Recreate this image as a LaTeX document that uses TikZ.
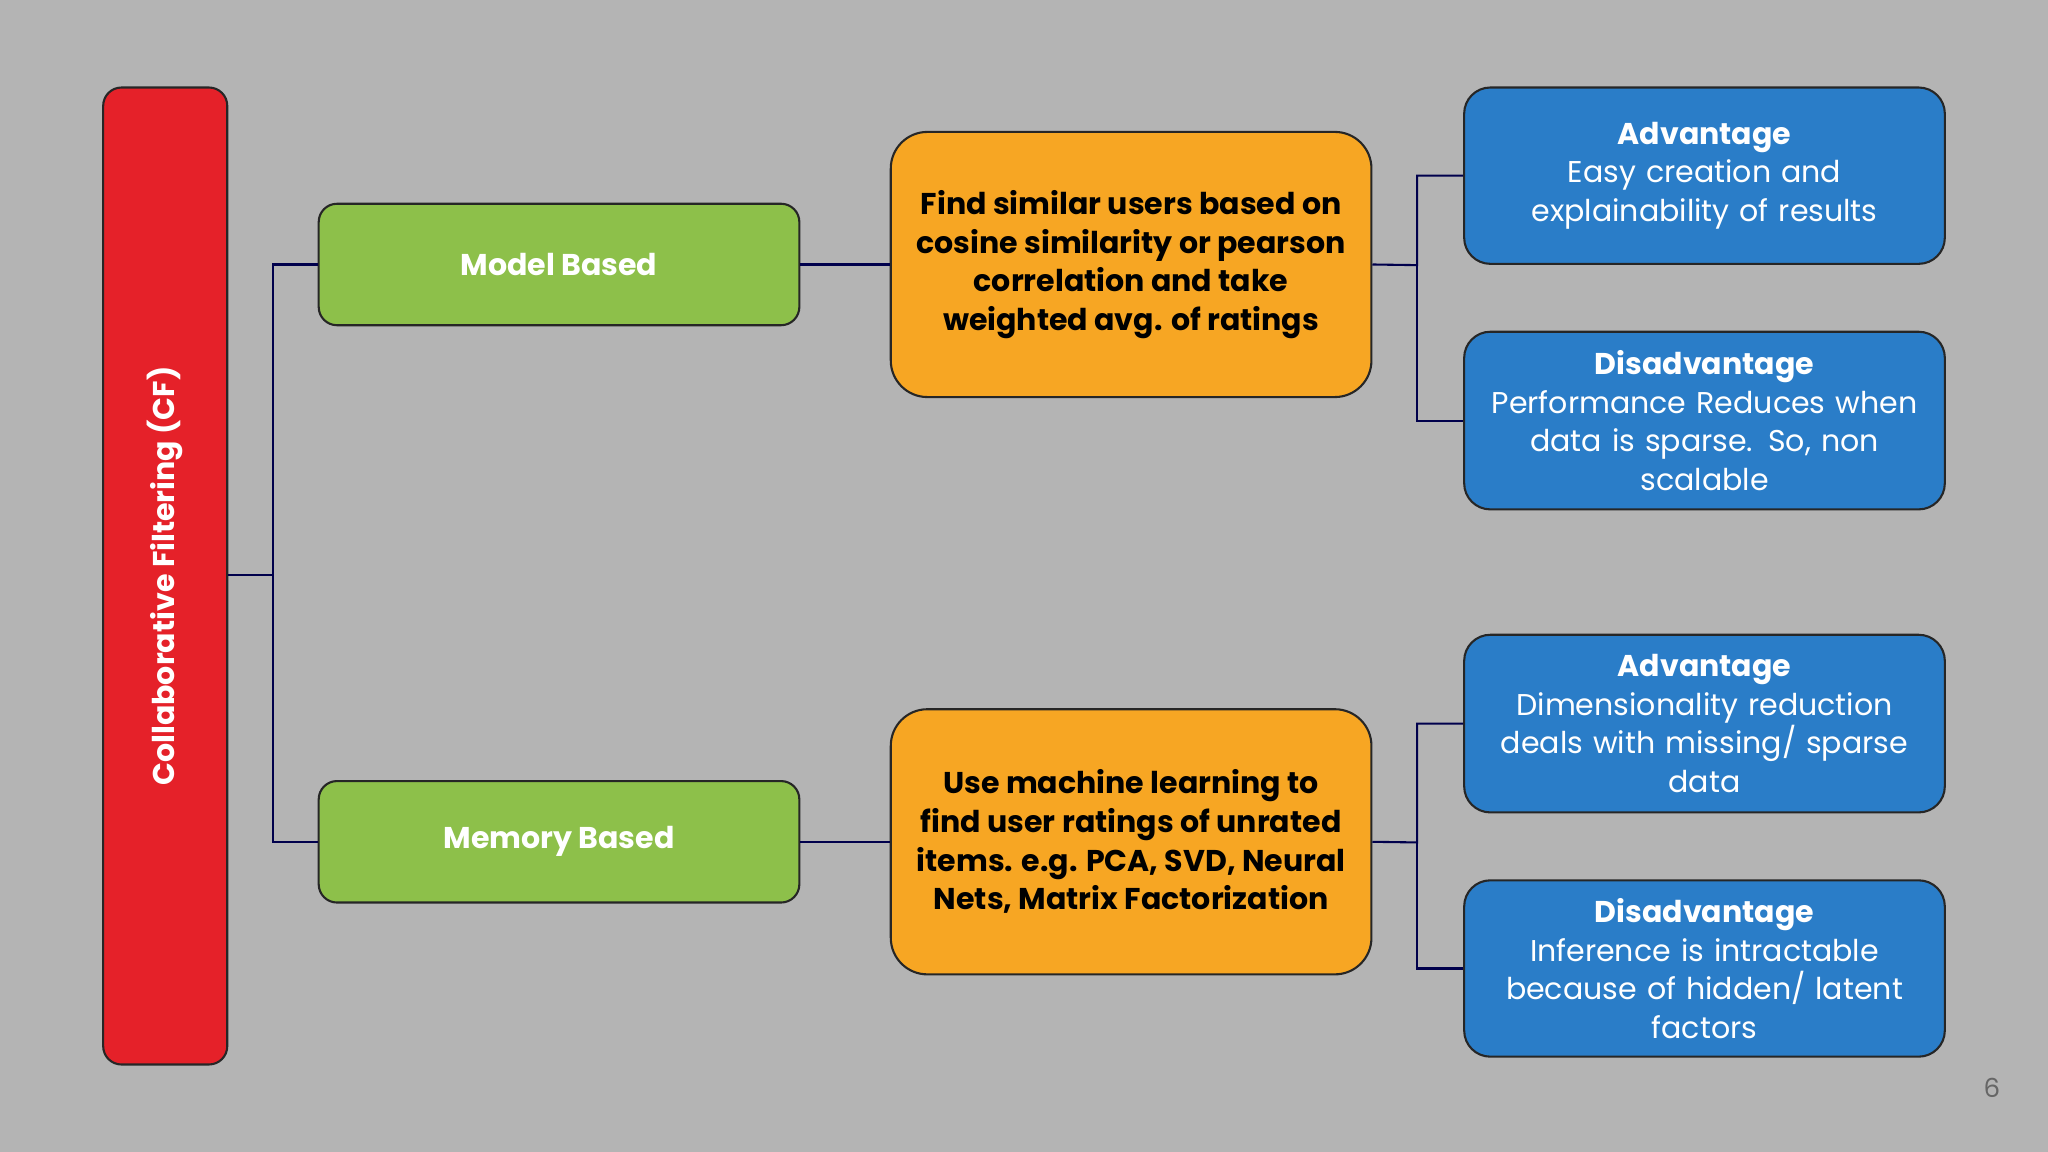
\documentclass[tikz,border=0pt]{standalone}
\usepackage{fontspec}
\setmainfont{Poppins}
\begin{document}
\begin{tikzpicture}[x=0.5pt,y=-0.5pt,
 box/.style={draw=black!85,line width=0.8pt,rounded corners=7pt,inner sep=0pt},
 conn/.style={draw=blue!30!black,line width=0.8pt},
 btxt/.style={font=\fontsize{11.5}{14.8}\selectfont,align=center,text width=170pt}]
\fill[gray!60!white,fill={rgb,255:red,180;green,180;blue,180}] (0,0) rectangle (1568,882);
\useasboundingbox (0,0) rectangle (1568,882);
\definecolor{cfred}{RGB}{229,33,41}
\definecolor{cfgreen}{RGB}{141,192,74}
\definecolor{cforange}{RGB}{247,166,35}
\definecolor{cfblue}{RGB}{42,125,200}
\node[box,fill=cfred,minimum width=47.5pt,minimum height=374pt] (cf) at (126.5,441) {};
\node[rotate=90,text=white,font=\bfseries\fontsize{11.5}{14}\selectfont] at (cf) {Collaborative Filtering (CF)};
\node[box,fill=cfgreen,minimum width=184pt,minimum height=46.5pt,text=white,font=\bfseries\fontsize{11.5}{14}\selectfont] (mb) at (428,202.5) {Model Based};
\node[box,fill=cfgreen,minimum width=184pt,minimum height=46.5pt,text=white,font=\bfseries\fontsize{11.5}{14}\selectfont] (mem) at (428,644.5) {Memory Based};
\node[box,fill=cforange,rounded corners=14pt,minimum width=184pt,minimum height=101.5pt,font=\bfseries\fontsize{11.5}{14.8}\selectfont,align=center] (o1) at (866,202.5) {Find similar users based on\\cosine similarity or pearson\\correlation and take\\weighted avg. of ratings};
\node[box,fill=cforange,rounded corners=14pt,minimum width=184pt,minimum height=101.5pt,font=\bfseries\fontsize{11.5}{14.8}\selectfont,align=center] (o2) at (866,644.5) {Use machine learning to\\find user ratings of unrated\\items. e.g. PCA, SVD, Neural\\Nets, Matrix Factorization};
\node[box,fill=cfblue,rounded corners=10pt,minimum width=184pt,minimum height=67.5pt] (b1) at (1305,134.5) {};
\node[btxt,text=white] at (b1) {\textbf{Advantage}\\Easy creation and\\explainability of results};
\node[box,fill=cfblue,rounded corners=10pt,minimum width=184pt,minimum height=68pt] (b2) at (1305,322) {};
\node[btxt,text=white] at (b2) {\textbf{Disadvantage}\\Performance Reduces when\\data is sparse. So, non\\scalable};
\node[box,fill=cfblue,rounded corners=10pt,minimum width=184pt,minimum height=68pt] (b3) at (1305,554) {};
\node[btxt,text=white] at (b3) {\textbf{Advantage}\\Dimensionality reduction\\deals with missing/ sparse\\data};
\node[box,fill=cfblue,rounded corners=10pt,minimum width=184pt,minimum height=67.5pt] (b4) at (1305,741.5) {};
\node[btxt,text=white] at (b4) {\textbf{Disadvantage}\\Inference is intractable\\because of hidden/ latent\\factors};
\coordinate (j0) at (209,440);
\coordinate (j1) at (1085,203);
\coordinate (j2) at (1085,645);
\draw[conn] (cf.east |- j0) -- (j0) |- (mb.west);
\draw[conn] (j0) |- (mem.west);
\draw[conn] (mb.east) -- (o1.west);
\draw[conn] (mem.east) -- (o2.west);
\draw[conn] (o1.east) -- (j1) |- (b1.west);
\draw[conn] (j1) |- (b2.west);
\draw[conn] (o2.east) -- (j2) |- (b3.west);
\draw[conn] (j2) |- (b4.west);
\node[text=black!60,font=\fontsize{10}{12}\selectfont] (pn) at (1525,833) {6};
\end{tikzpicture}
\end{document}
